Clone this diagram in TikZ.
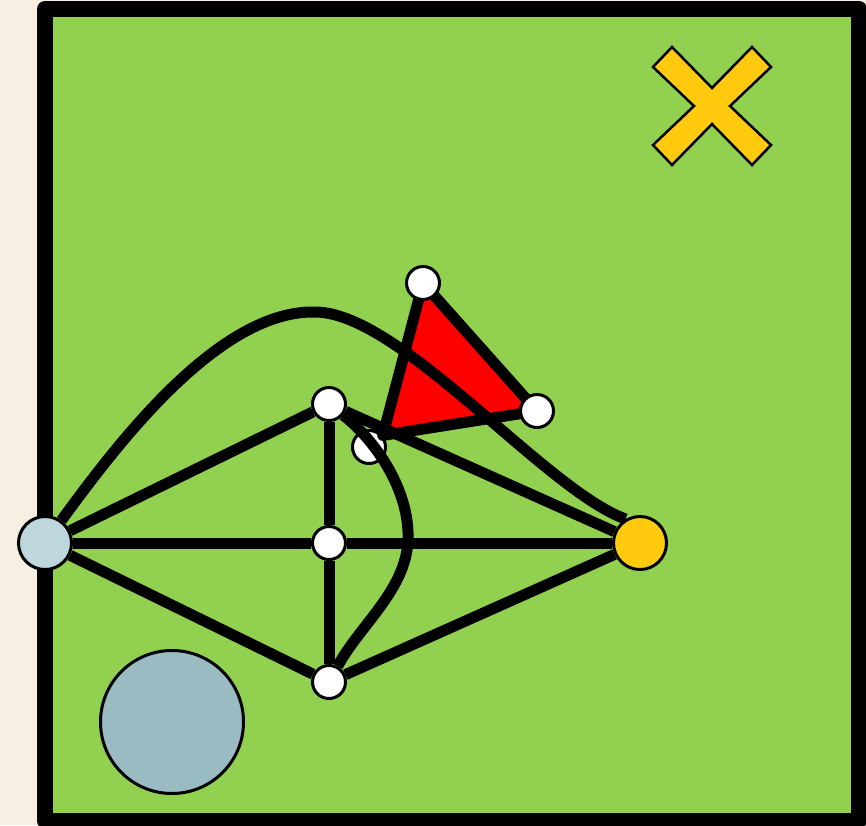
\documentclass[tikz,border=0pt]{standalone}
\usepackage{xcolor}
\usepackage{tikz}
\usetikzlibrary{backgrounds}
\definecolor{paperCream}{HTML}{F8EFE3}
\definecolor{fieldGreen}{HTML}{92D050}
\definecolor{markGold}{HTML}{FFC90E}
\definecolor{hubBlue}{HTML}{BDD7DC}
\definecolor{poolBlue}{HTML}{9BBBC2}
\definecolor{flagRed}{HTML}{FF0000}
\pgfdeclarelayer{under}
\pgfdeclarelayer{wires}
\pgfsetlayers{background,under,wires,main}

\begin{document}
\begin{tikzpicture}[x=1pt, y=-1pt,
  wire/.style={line width=11pt, color=black},
  dotNode/.style={circle, draw=black, line width=3pt, fill=white, inner sep=0pt, minimum size=33pt},
  hubNode/.style={dotNode, minimum size=53pt}]
  \useasboundingbox (0,0) rectangle (866,825);
  \begin{pgfonlayer}{background}
    \fill[paperCream] (0,0) rectangle (866,825);
    \draw[line width=16pt, line join=round, fill=fieldGreen] (45,9) rectangle (859,821);
    \draw[line width=3pt, fill=poolBlue] (172,722) circle (71.5);
    \draw[line width=2.5pt, line join=miter, fill=markGold, shift={(712,106)}]
      (-40,-59) -- (0,-18) -- (40,-59) -- (59,-39) -- (18,0) -- (59,39) -- (40,59)
      -- (0,18) -- (-40,59) -- (-59,39) -- (-18,0) -- (-59,-39) -- cycle;
  \end{pgfonlayer}

  % graph nodes
  \node[hubNode, fill=hubBlue] (west) at (45,543) {};
  \node[hubNode, fill=markGold] (east) at (640,543) {};
  \node[dotNode] (north) at (329,404) {};
  \node[dotNode] (mid) at (329,543) {};
  \node[dotNode] (south) at (329,682) {};
  \node[dotNode] (flagTop) at (423,283) {};
  \node[dotNode] (flagTip) at (537,411) {};
  \begin{pgfonlayer}{under}
    \node[dotNode] (flagLow) at (369,447) {};
  \end{pgfonlayer}

  \begin{pgfonlayer}{wires}
    \filldraw[wire, fill=flagRed, line join=round]
      (flagTop.center) -- (flagTip.center) -- (flagLow.40) -- cycle;
    \foreach \from/\to in {west/north, west/mid, west/south, north/mid, mid/south,
                           north/east, mid/east, south/east}
      \draw[wire] (\from) -- (\to);
    \draw[wire] (west) .. controls (120,440) and (220,310) .. (315,312)
      .. controls (400,312) and (545,490) .. (east.121);
    \draw[wire] (north) .. controls (375,440) and (410,490) .. (408,540)
      .. controls (406,590) and (360,625) .. (south);
  \end{pgfonlayer}
\end{tikzpicture}
\end{document}
